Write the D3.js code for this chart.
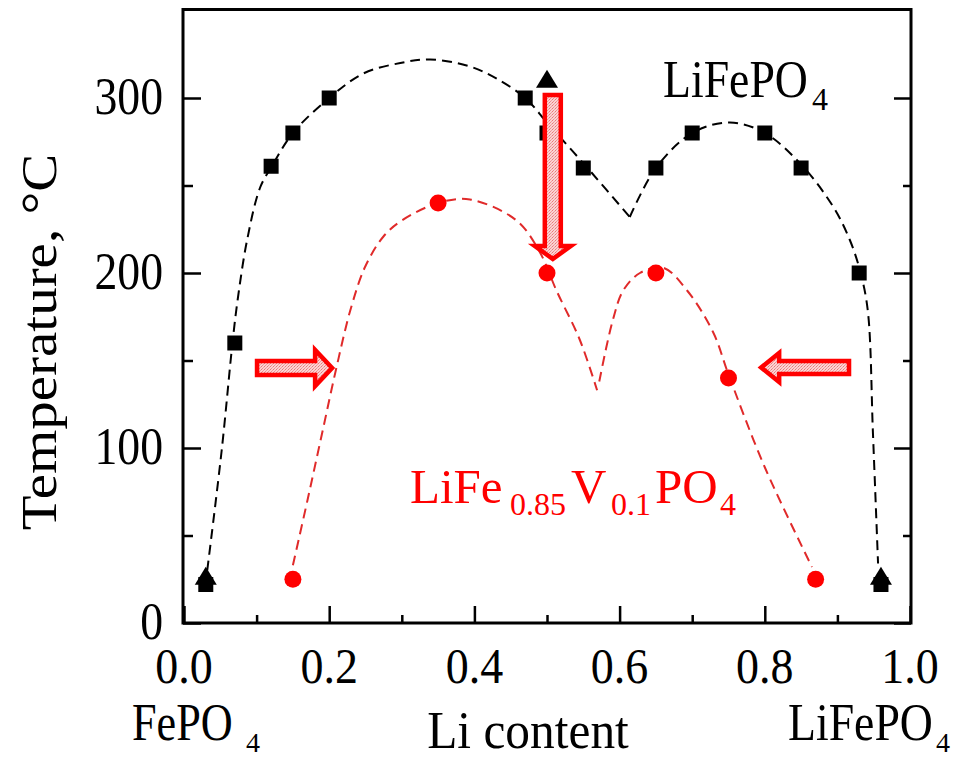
<!DOCTYPE html>
<html><head><meta charset="utf-8">
<script src="https://cdn.jsdelivr.net/npm/d3@7"></script>
<style>
html,body{margin:0;padding:0;background:#fff;}
svg{display:block;}
text{font-family:"Liberation Serif","Times New Roman",serif;}
</style>
</head><body>
<svg id="chart" width="967" height="760"></svg>
<script>
// ---------------- data ----------------
const xTicks = [0.0, 0.2, 0.4, 0.6, 0.8, 1.0];
const xTickLabels = ["0.0", "0.2", "0.4", "0.6", "0.8", "1.0"];
const xMinorTicks = [0.1, 0.3, 0.5, 0.7, 0.9];
const yTicks = [0, 100, 200, 300];
const yTickLabels = ["0", "100", "200", "300"];
const yMinorTicks = [50, 150, 250];

// LiFePO4 (black squares / triangles)
const squareX = [0.03, 0.07, 0.12, 0.15, 0.20, 0.47, 0.50, 0.55, 0.65, 0.70, 0.80, 0.85, 0.93, 0.96];
const squareT = [22, 160, 261, 280, 300, 300, 280, 260, 260, 280, 280, 260, 200, 22];
const triangleX = [0.03, 0.50, 0.96];
const triangleT = [27, 311, 27];

// LiFe0.85V0.1PO4 (red circles)
const circleX = [0.15, 0.35, 0.50, 0.65, 0.75, 0.87];
const circleT = [25, 240, 200, 200, 140, 25];

// dashed guide curves
const blackLeftX = [0.032, 0.052, 0.067, 0.074, 0.087, 0.105, 0.121, 0.15, 0.20, 0.247, 0.298, 0.339, 0.394, 0.431, 0.47, 0.50, 0.56, 0.614];
const blackLeftT = [30, 99, 161, 185, 219, 249, 261, 280, 300, 314, 320, 322, 318, 311, 300, 286, 258, 232];
const blackRightX = [0.614, 0.65, 0.70, 0.752, 0.80, 0.85, 0.894, 0.917, 0.932, 0.942, 0.949, 0.956];
const blackRightT = [232, 260, 280, 286, 280, 262, 238, 219, 200, 178, 108, 34];
const redLeftX = [0.15, 0.17, 0.19, 0.21, 0.23, 0.25, 0.275, 0.30, 0.35, 0.394, 0.458, 0.49, 0.513, 0.545, 0.569];
const redLeftT = [33, 70, 108, 146, 180, 204, 221, 230, 240, 242, 230, 212, 190, 162, 133];
const redRightX = [0.572, 0.59, 0.605, 0.628, 0.66, 0.693, 0.729, 0.75, 0.80, 0.865];
const redRightT = [138, 172, 190, 200, 203, 190, 166, 142, 89, 32];

// block arrows (annotation, data coordinates)
const arrowFromX = [0.508, 0.1006, 0.916];
const arrowFromT = [301.7, 145.7, 146];
const arrowToX = [0.508, 0.204, 0.795];
const arrowToT = [208, 145.7, 146];

// ---------------- layout ----------------
const svg = d3.select("#chart");
const x = d3.scaleLinear().domain([0, 1]).range([184, 910]);
const y = d3.scaleLinear().domain([0, 350]).range([623, 10.5]);
const SX = 0.88; // horizontal squeeze of the original typography

// pattern for arrow fill
const defs = svg.append("defs");
const pat = defs.append("pattern").attr("id", "grain").attr("width", 3).attr("height", 3)
  .attr("patternUnits", "userSpaceOnUse");
pat.append("rect").attr("width", 3).attr("height", 3).attr("fill", "#fbd3d3");
pat.append("rect").attr("x", 0).attr("y", 0).attr("width", 1).attr("height", 1).attr("fill", "#e87878");
pat.append("rect").attr("x", 2).attr("y", 1).attr("width", 1).attr("height", 1).attr("fill", "#f0a0a0");
pat.append("rect").attr("x", 1).attr("y", 2).attr("width", 1).attr("height", 1).attr("fill", "#ec9090");

// ---------------- axes ----------------
const axW = 3;
function styleAxis(g) {
  g.select(".domain").remove();
  g.selectAll(".tick line").attr("stroke", "#000").attr("stroke-width", 2.5);
  g.selectAll(".tick text").remove();
}
svg.append("g").attr("transform", `translate(${x(0) - 1},0)`)
  .call(d3.axisLeft(y).tickValues(yTicks).tickSize(-18)).call(styleAxis);
svg.append("g").attr("transform", `translate(${x(0) - 1},0)`)
  .call(d3.axisLeft(y).tickValues(yMinorTicks).tickSize(-10)).call(styleAxis);
svg.append("g").attr("transform", `translate(${x(1) + 1},0)`)
  .call(d3.axisRight(y).tickValues(yTicks).tickSize(-17)).call(styleAxis);
svg.append("g").attr("transform", `translate(${x(1) + 1},0)`)
  .call(d3.axisRight(y).tickValues(yMinorTicks).tickSize(-8)).call(styleAxis);
svg.append("g").attr("transform", `translate(0,${y(0)})`)
  .call(d3.axisBottom(x).tickValues(xTicks).tickSize(-17)).call(styleAxis);
svg.append("g").attr("transform", `translate(0,${y(0)})`)
  .call(d3.axisBottom(x).tickValues(xMinorTicks).tickSize(-8)).call(styleAxis);

svg.append("rect")
  .attr("x", x(0) - 1).attr("y", y(350) - 1)
  .attr("width", x(1) - x(0) + 2).attr("height", y(0) - y(350) + 1)
  .attr("fill", "none").attr("stroke", "#000").attr("stroke-width", axW);

function sText(px, py, str, size, anchor, fill, sx) {
  return svg.append("text")
    .attr("transform", `translate(${px},${py}) scale(${sx === undefined ? SX : sx},1)`)
    .attr("text-anchor", anchor || "start")
    .attr("font-size", size)
    .attr("fill", fill || "#000")
    .text(str);
}

yTicks.forEach((v, i) => sText(163, y(v) + 16, yTickLabels[i], 52, "end"));
xTicks.forEach((v, i) => sText(x(v), 683, xTickLabels[i], 50, "middle", "#000", 0.92));

// axis titles
svg.append("text")
  .attr("transform", `translate(56,342) scale(${SX},1) rotate(-90)`)
  .attr("text-anchor", "middle").attr("font-size", 57).attr("fill", "#000")
  .text("Temperature, \u00B0C");
sText(528, 748, "Li content", 52, "middle", "#000", 0.95);
sText(132, 740, "FePO", 52, "start", "#000", 0.85);
sText(246, 752, "4", 28, "start", "#000", 1);
sText(788, 740, "LiFePO", 52, "start", "#000", 0.88);
sText(936, 752, "4", 28, "start", "#000", 1);

// ---------------- curves ----------------
const line = d3.line().x(d => x(d[0])).y(d => y(d[1])).curve(d3.curveCatmullRom.alpha(0.5));
function drawCurve(xs, ts, color) {
  svg.append("path").datum(xs.map((v, i) => [v, ts[i]]))
    .attr("d", line).attr("fill", "none").attr("stroke", color)
    .attr("stroke-width", 2).attr("stroke-dasharray", "10,6");
}
drawCurve(blackLeftX, blackLeftT, "#000");
drawCurve(blackRightX, blackRightT, "#000");
drawCurve(redLeftX, redLeftT, "#e02a2a");
drawCurve(redRightX, redRightT, "#e02a2a");

// ---------------- markers ----------------
const sq = 15;
svg.append("g").selectAll("rect").data(squareX.map((v, i) => [v, squareT[i]])).join("rect")
  .attr("x", d => x(d[0]) - sq / 2).attr("y", d => y(d[1]) - sq / 2)
  .attr("width", sq).attr("height", sq).attr("fill", "#000");
svg.append("g").selectAll("path").data(triangleX.map((v, i) => [v, triangleT[i]])).join("path")
  .attr("transform", d => `translate(${x(d[0])},${y(d[1])})`)
  .attr("d", "M0,-9L11,9L-11,9Z").attr("fill", "#000");
svg.append("g").selectAll("circle").data(circleX.map((v, i) => [v, circleT[i]])).join("circle")
  .attr("cx", d => x(d[0])).attr("cy", d => y(d[1])).attr("r", 8.5).attr("fill", "#ff0000");

// ---------------- block arrows ----------------
function arrowPath(x1, y1, x2, y2, sh, hh, hl) {
  const L = Math.hypot(x2 - x1, y2 - y1);
  const ux = (x2 - x1) / L, uy = (y2 - y1) / L;
  const vx = -uy, vy = ux;
  const bx = x2 - ux * hl, by = y2 - uy * hl;
  const p = [
    [x1 + vx * sh, y1 + vy * sh], [bx + vx * sh, by + vy * sh], [bx + vx * hh, by + vy * hh],
    [x2, y2], [bx - vx * hh, by - vy * hh], [bx - vx * sh, by - vy * sh], [x1 - vx * sh, y1 - vy * sh]
  ];
  return "M" + p.map(q => q.join(",")).join("L") + "Z";
}
const arrowDims = [[8, 18, 13], [7, 18, 17], [6.5, 14.5, 18]];
arrowFromX.forEach((v, i) => {
  svg.append("path")
    .attr("d", arrowPath(x(v), y(arrowFromT[i]), x(arrowToX[i]), y(arrowToT[i]), ...arrowDims[i]))
    .attr("fill", "url(#grain)").attr("stroke", "#ff0000").attr("stroke-width", 4.5)
    .attr("stroke-linejoin", "miter");
});

// ---------------- labels ----------------
sText(663, 97, "LiFePO", 52, "start", "#000", 0.88);
sText(812, 110, "4", 32, "start", "#000", 1);

const red = svg.append("text").attr("fill", "#ff0000");
[["LiFe", 410, 503, 49], ["0.85", 510, 515, 32], ["V", 571, 503, 49],
 ["0.1", 611, 515, 32], ["PO", 655, 503, 49], ["4", 720, 515, 32]].forEach(p => {
  red.append("tspan").attr("x", p[1]).attr("y", p[2]).attr("font-size", p[3]).text(p[0]);
});
</script>
</body></html>
